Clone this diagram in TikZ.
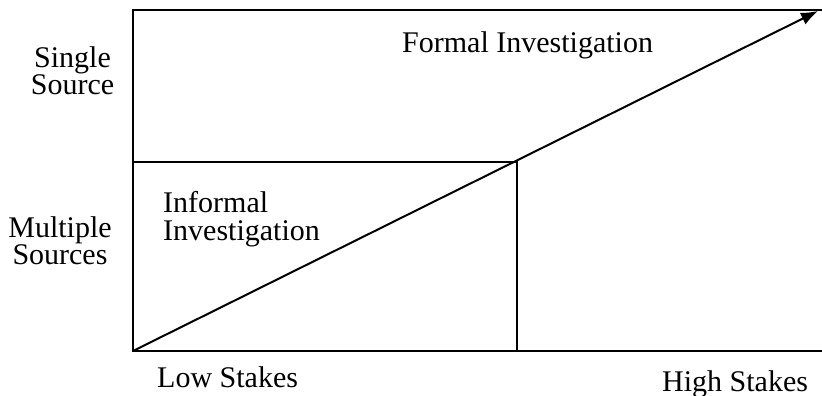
\documentclass[tikz,border=0pt]{standalone}
\usepackage{fontspec}
\setmainfont{Liberation Serif}
\usetikzlibrary{arrows.meta}
\tikzset{
  lbl/.style={font=\fontsize{30}{27}\selectfont, inner sep=0pt, align=center},
  lblL/.style={font=\fontsize{30}{28}\selectfont, inner sep=0pt, align=left},
  ln/.style={line width=2pt},
}
\begin{document}
\begin{tikzpicture}[x=1pt,y=-1pt]
\useasboundingbox (0,0) rectangle (822,396);
\coordinate (o) at (133,351);
\coordinate (tl) at (133,10);
\coordinate (tr) at (822,10);
\coordinate (br) at (822,351);
\coordinate (ml) at (133,162);
\coordinate (mr) at (517,162);
\coordinate (mb) at (517,351);
\coordinate (tip) at (818,11);
\draw[ln] (tr) -- (tl) -- (o) -- (br);
\draw[ln] (ml) -- (mr) -- (mb);
\draw[ln,-{Latex[length=17pt,width=13pt]}] (o) -- (tip);
\node[lbl, anchor=base] (s) at (72.5,95) {Single\\Source};
\node[lbl, anchor=base] (m) at (60,264) {Multiple\\Sources};
\node[lbl, anchor=base west] (f) at (402,53) {Formal Investigation};
\node[lblL, anchor=base west] (i) at (163,240) {Informal\\Investigation};
\node[lbl, anchor=base west] (lo) at (157,387) {Low Stakes};
\node[lbl, anchor=base west] (hi) at (662,391) {High Stakes};
\end{tikzpicture}
\end{document}
